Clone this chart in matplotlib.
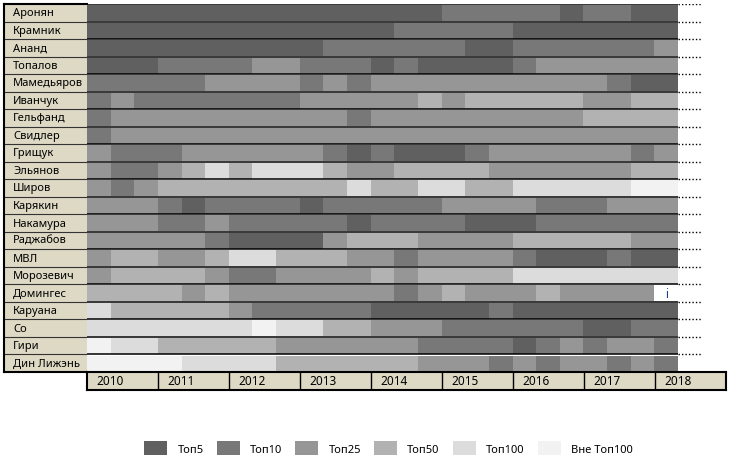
import numpy as np
import matplotlib.pyplot as plt
from matplotlib.patches import Patch

plt.rcParams['font.family'] = ['Noto Sans', 'DejaVu Sans']

# игроки сверху вниз
players = ['Аронян', 'Крамник', 'Ананд', 'Топалов', 'Мамедьяров', 'Иванчук',
           'Гельфанд', 'Свидлер', 'Грищук', 'Эльянов', 'Широв', 'Карякин',
           'Накамура', 'Раджабов', 'МВЛ', 'Морозевич', 'Домингес', 'Каруана',
           'Со', 'Гири', 'Дин Лижэнь']

# место в рейтинге по третям года (1=Топ5 ... 6=Вне Топ100, 0=нет данных)
ranks = ['1111111111111112222212211',
         '1111111111111222221111111',
         '1111111111222222112222223',
         '1112222332221211112333333',
         '2222233332323333333333211',
         '2322222223333343444443344',
         '2333333333323333333334444',
         '2333333333333333333333333',
         '3222333333212111233333323',
         '3223454555433444433333344',
         '3234444444454455445555566',
         '3332122221222223333222333',
         '3332232222212222111222222',
         '3333321111344433334444433',
         '3443345544433233332111211',
         '3444432233334344445555555',
         '4444343333333234333433330',
         '5444443222221111121111111',
         '5555555655443332222221122',
         '6554444433333322221232332',
         '6666555544444433323233232']

years = list(range(2010, 2019))
categories = ['Топ5', 'Топ10', 'Топ25', 'Топ50', 'Топ100', 'Вне Топ100']
colors = ['#606060', '#787878', '#969696', '#b2b2b2', '#dcdcdc', '#f2f2f2']
beige = '#ddd9c4'
step = 1 / 3

W, H = 730, 460
fig = plt.figure(figsize=(W / 100, H / 100), dpi=100)


def box(x0, y0, x1, y1):
    # пиксели -> доли фигуры
    return [x0 / W, 1 - y1 / H, (x1 - x0) / W, (y1 - y0) / H]


n = len(players)
ncells = len(ranks[0])
x_end = years[0] + ncells * step

# основная область
ax = fig.add_axes(box(87, 5, 678, 373))
for i, code in enumerate(ranks):
    j = 0
    while j < ncells:
        k = j
        while k < ncells and code[k] == code[j]:
            k += 1
        c = int(code[j])
        if c:
            ax.barh(i + 0.515, (k - j) * step, left=years[0] + j * step,
                    height=0.91, color=colors[c - 1], linewidth=0)
        else:
            ax.text(years[0] + (j + 0.5) * step, i + 0.5, 'i', color='#1a3d8f',
                    ha='center', va='center', fontsize=8.5, fontweight='bold')
        j = k
ax.hlines(np.arange(n + 1), years[0], x_end, color='black', lw=1.1)
ax.set_xlim(years[0], x_end)
ax.set_ylim(n, 0)
ax.axis('off')

# точечные линии справа
axd = fig.add_axes(box(678, 5, 702, 373))
axd.hlines(np.arange(n), 0, 1, color='black', lw=1, linestyles=(0, (1, 1.5)))
axd.set_xlim(0, 1)
axd.set_ylim(n, 0)
axd.axis('off')

# столбец с именами
axl = fig.add_axes(box(4, 5, 87, 373))
axl.set_facecolor(beige)
axl.hlines(np.arange(1, n), 0, 1, color='#333333', lw=0.8)
for i, name in enumerate(players):
    axl.text(0.108, i + 0.5, name, ha='left', va='center', fontsize=8)
axl.set_xlim(0, 1)
axl.set_ylim(n, 0)
axl.set_xticks([])
axl.set_yticks([])
for s in axl.spines.values():
    s.set_linewidth(1.5)
axl.spines['right'].set_visible(False)

# строка с годами
axy = fig.add_axes(box(87, 373, 726, 391))
axy.set_facecolor(beige)
axy.vlines(years[1:], 0, 1, color='black', lw=1)
for y in years:
    axy.text(y + 0.13, 0.5, str(y), ha='left', va='center', fontsize=8.5)
axy.set_xlim(years[0], years[-1] + 1)
axy.set_ylim(0, 1)
axy.set_xticks([])
axy.set_yticks([])
for s in axy.spines.values():
    s.set_linewidth(1.5)

# легенда
handles = [Patch(facecolor=c, edgecolor='none') for c in colors]
fig.legend(handles, categories, loc='center', bbox_to_anchor=(388.5 / W, 1 - 449 / H),
           ncol=6, frameon=False, fontsize=8, handlelength=2.07, handleheight=1.44,
           handletextpad=0.9, columnspacing=1.2)

fig.savefig('out.png', dpi=100)
